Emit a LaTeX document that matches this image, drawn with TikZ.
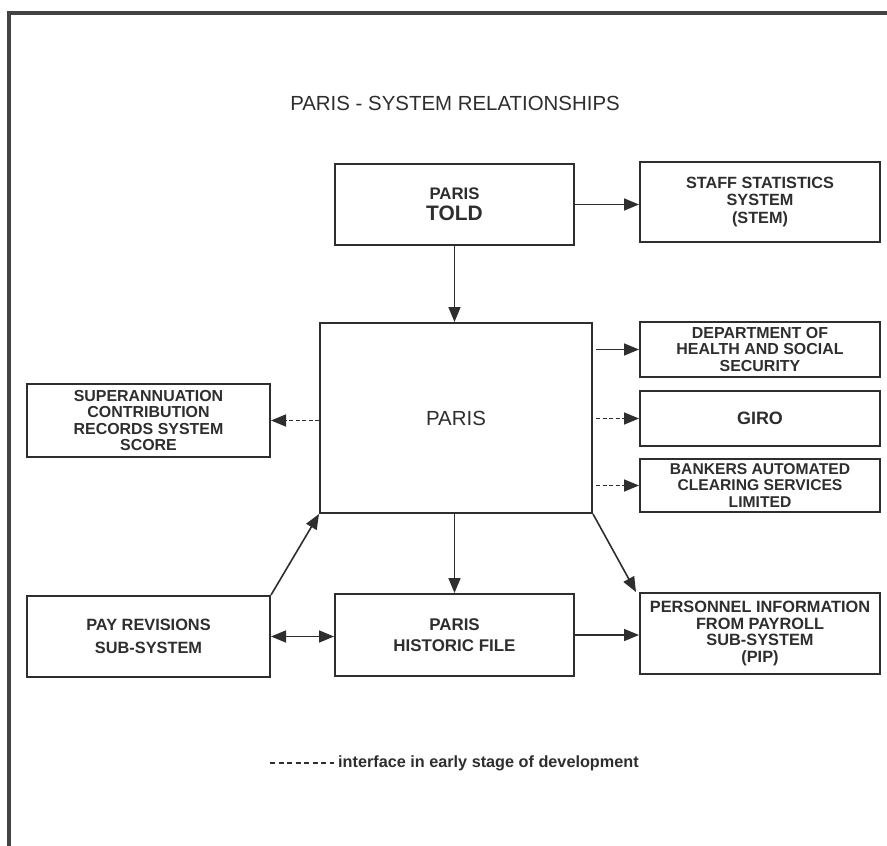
\documentclass[tikz,border=0pt]{standalone}
\usepackage{fontspec}
\setmainfont{Liberation Sans}
\usetikzlibrary{arrows.meta}
\definecolor{ink}{HTML}{2E2E2E}
\begin{document}
\begin{tikzpicture}[x=1bp,y=-1bp,
  box/.style={draw=ink,line width=2bp,inner sep=0pt,align=center,text=ink},
  tip/.tip={Triangle[length=15bp,width=12bp]},
  arr/.style={draw=ink,line width=1.6bp,-tip},
  darr/.style={arr,dash pattern=on 4bp off 2.5bp},
  bothw/.style={draw=ink,line width=1.6bp,tip-tip}]
\useasboundingbox (0,0) rectangle (887,846);
\fill[white] (0,0) rectangle (887,846);
\draw[line width=3.8bp,draw=ink!90] (9,846) -- (9,13) -- (887,13);
\node[text=ink,font=\fontsize{20.5}{22}\selectfont] (title) at (455,103) {PARIS - SYSTEM RELATIONSHIPS};
\node[box,minimum width=239bp,minimum height=81bp,font=\fontsize{21}{21}\selectfont\bfseries] (told) at (454.5,204.5)
  {{\fontsize{16.8}{17}\selectfont PARIS}\\{\fontsize{21}{21}\selectfont TOLD}};
\node[box,minimum width=240bp,minimum height=80bp,font=\fontsize{16.3}{17.5}\selectfont\bfseries] (stem) at (760,202) {STAFF STATISTICS\\SYSTEM\\(STEM)};
\node[box,minimum width=272bp,minimum height=190bp,font=\fontsize{20.5}{22}\selectfont] (paris) at (456,418) {PARIS};
\node[box,minimum width=240bp,minimum height=55bp,font=\fontsize{16}{16.7}\selectfont\bfseries] (dhss) at (760,349.5) {DEPARTMENT OF\\HEALTH AND SOCIAL\\SECURITY};
\node[box,minimum width=240bp,minimum height=55bp,font=\fontsize{18}{20}\selectfont\bfseries] (giro) at (760,418.5) {GIRO};
\node[box,minimum width=240bp,minimum height=53bp,font=\fontsize{15.7}{16.7}\selectfont\bfseries] (bacs) at (760,485.5) {BANKERS AUTOMATED\\CLEARING SERVICES\\LIMITED};
\node[box,minimum width=243bp,minimum height=73bp,font=\fontsize{16}{16.7}\selectfont\bfseries] (score) at (148.5,420.5) {SUPERANNUATION\\CONTRIBUTION\\RECORDS SYSTEM\\SCORE};
\node[box,minimum width=243bp,minimum height=81bp,font=\fontsize{16.4}{23}\selectfont\bfseries] (pay) at (148.5,636.5) {PAY REVISIONS\\SUB-SYSTEM};
\node[box,minimum width=239bp,minimum height=82bp,font=\fontsize{17}{21}\selectfont\bfseries] (hist) at (454.5,635) {PARIS\\HISTORIC FILE};
\node[box,minimum width=240bp,minimum height=81bp,font=\fontsize{16.4}{16.7}\selectfont\bfseries] (pip) at (760,633.5) {PERSONNEL INFORMATION\\FROM PAYROLL\\SUB-SYSTEM\\(PIP)};
% connectors
\draw[arr] (told.east) -- (told.east -| stem.west);
\draw[arr] (told.south) -- (told.south |- paris.north);
\draw[arr,shorten <=3bp] (paris.east |- dhss.west) -- (dhss.west);
\draw[darr,shorten <=3bp] (paris.east |- giro.west) -- (giro.west);
\draw[darr,shorten <=3bp] (paris.east |- bacs.west) -- (bacs.west);
\draw[darr] (paris.west |- score.east) -- (score.east);
\draw[arr] (paris.south -| hist.north) -- (hist.north);
\draw[arr] (paris.south east) -- ([xshift=-3bp]pip.north west);
\draw[arr] (pay.north east) -- (paris.south west);
\draw[bothw] (pay.east) -- (pay.east -| hist.west);
\draw[arr] (hist.east) -- (hist.east -| pip.west);
% legend
\coordinate (l1) at (270,763);
\coordinate (l2) at (334,763);
\draw[draw=ink,line width=1.5bp,dash pattern=on 5bp off 3.5bp] (l1) -- (l2);
\node[anchor=west,text=ink,inner sep=0pt,font=\fontsize{16.3}{18}\selectfont\bfseries] (legend) at (338,763) {interface in early stage of development};
\end{tikzpicture}
\end{document}
